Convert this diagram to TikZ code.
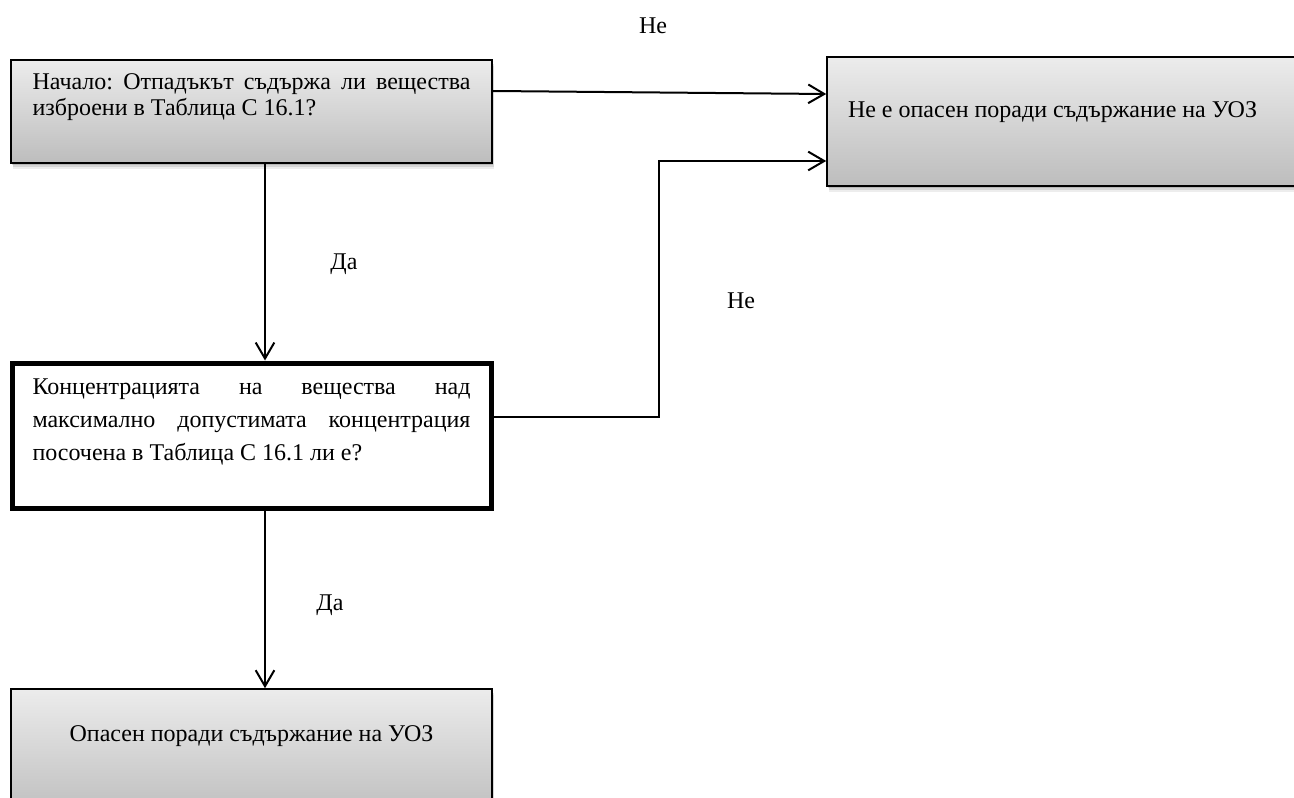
\documentclass[tikz,border=0pt]{standalone}
\usepackage{fontspec}
\setmainfont{Liberation Serif}
\usetikzlibrary{arrows.meta,shadows}
\newlength\px
\setlength\px{0.75pt}
\definecolor{gtop}{RGB}{236,236,236}
\definecolor{gbot}{RGB}{189,189,189}
\newcommand\smallspace{\fontsize{18}{18}\selectfont\frenchspacing}
\newcommand\widespace{\fontsize{18}{24.75}\selectfont\frenchspacing}
\begin{document}
\begin{tikzpicture}[x=0.75pt, y=-0.75pt,
  gbox/.style={draw=black, line width=1.6\px, top color=gtop, bottom color=gbot, inner sep=0pt,
    drop shadow={shadow xshift=1\px, shadow yshift=-2\px, opacity=.14, fill=black},
    drop shadow={shadow xshift=1.5\px, shadow yshift=-4\px, opacity=.10, fill=black},
    drop shadow={shadow xshift=2\px, shadow yshift=-6\px, opacity=.07, fill=black}},
  qbox/.style={draw=black, line width=5\px, fill=white, inner sep=0pt},
  flow/.style={line width=2\px, -{Straight Barb[length=12pt, width=14pt]}},
  lbl/.style={font=\smallspace, anchor=base, inner sep=0pt}]
\useasboundingbox (0,0) rectangle (1294,798);
\clip (0,0) rectangle (1294,798);

% boxes
\node[gbox, minimum width=481\px, minimum height=103\px] (q1) at (251.5,111.5)
  {\parbox[c][103\px][t]{438\px}{\smallspace\vspace*{13.2\px}\strut Начало: Отпадъкът съдържа ли вещества\linebreak изброени в Таблица С 16.1?}};
\node[qbox, minimum width=479\px, minimum height=145\px] (q3) at (251.5,435.5)
  {\parbox[c][145\px][t]{438\px}{\widespace\vspace*{7.9\px}\strut Концентрацията на вещества над\linebreak максимално допустимата концентрация\linebreak посочена в Таблица С 16.1 ли е?}};
\node[gbox, minimum width=493\px, minimum height=129\px] (q2) at (1073.5,121.5)
  {\parbox[c][129\px][t]{451\px}{\smallspace\vspace*{44.2\px}\strut Не е опасен поради съдържание на УОЗ}};
\node[gbox, minimum width=481\px, minimum height=129\px] (q4) at (251.5,753.5)
  {\parbox[c][129\px][t]{438\px}{\smallspace\centering\vspace*{35.2\px}\strut Опасен поради съдържание на УОЗ}};

% connectors
\coordinate (xv) at (265,0);
\coordinate (ys) at (0,91);
\coordinate (ye) at (0,94);
\coordinate (y4) at (0,417);
\coordinate (bend) at (659,161);
\draw[flow] (q1.south -| xv) -- (q3.north -| xv);
\draw[flow] (q3.south -| xv) -- (q4.north -| xv);
\draw[flow] (q1.east |- ys) -- (q2.west |- ye);
\draw[flow] (q3.east |- y4) -| (bend) -- (q2.west |- bend);

% labels
\node[lbl] (no1) at (653,34) {Не};
\node[lbl] (yes1) at (344,270) {Да};
\node[lbl] (no2) at (741,309) {Не};
\node[lbl] (yes2) at (330,610) {Да};
\end{tikzpicture}
\end{document}
